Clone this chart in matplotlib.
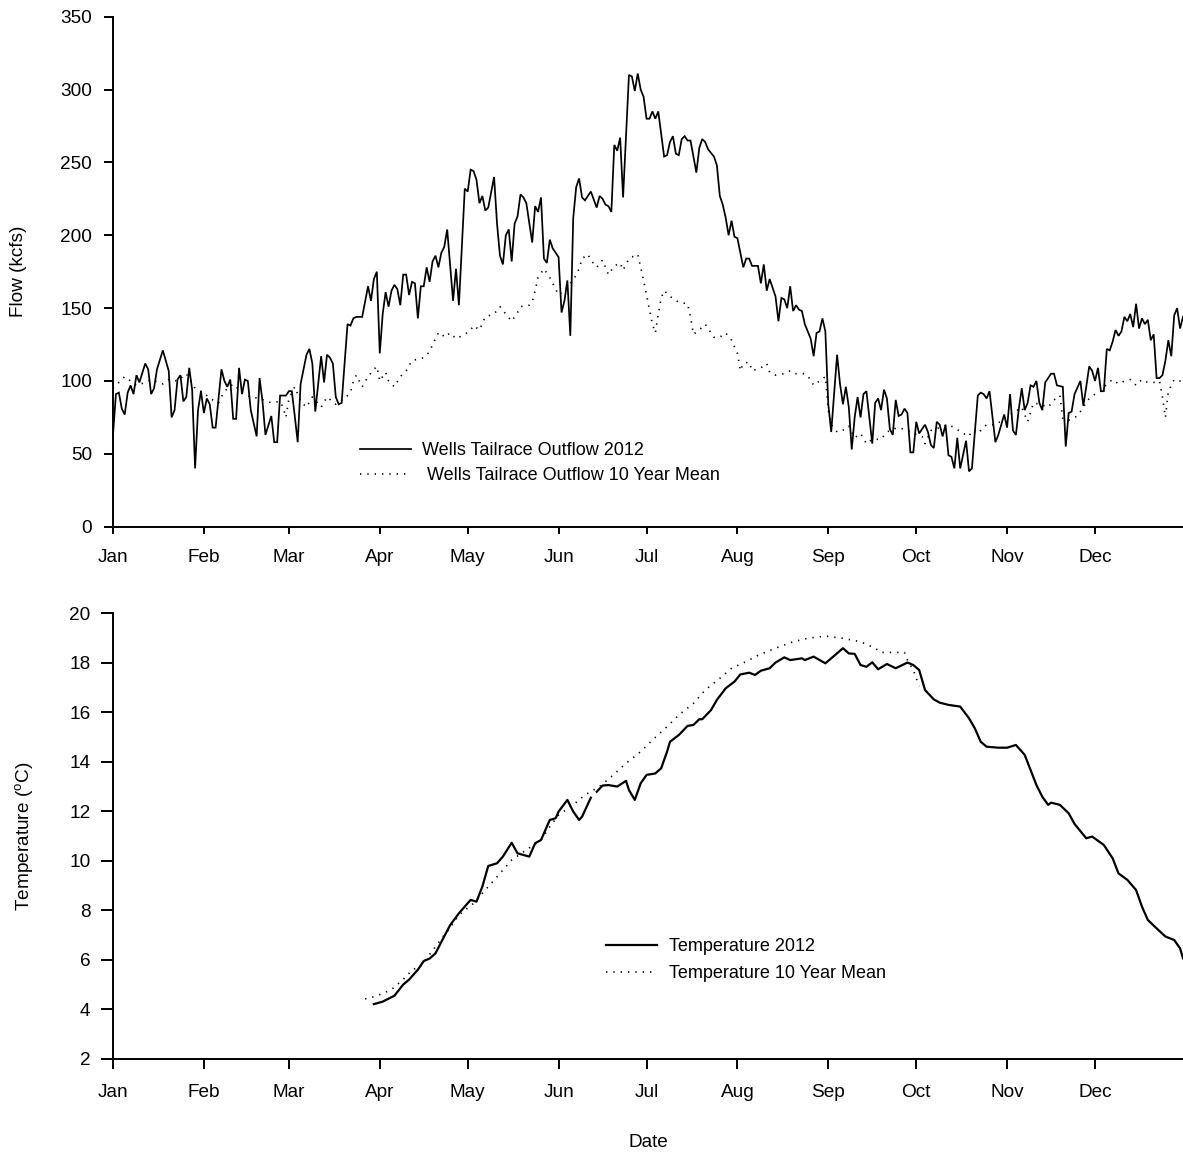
import numpy as np
import matplotlib
matplotlib.use("Agg")
import matplotlib.pyplot as plt

plt.rcParams['font.family'] = ['Liberation Sans', 'DejaVu Sans']
plt.rcParams['mathtext.fontset'] = 'custom'
plt.rcParams['mathtext.rm'] = 'Liberation Sans'
plt.rcParams['mathtext.it'] = 'Liberation Sans'

# ---------------- data (day of year 2012, 0 = Jan 1) ----------------
month_labels = ["Jan", "Feb", "Mar", "Apr", "May", "Jun", "Jul", "Aug", "Sep", "Oct", "Nov", "Dec"]
month_starts = [0, 31, 60, 91, 121, 152, 182, 213, 244, 274, 305, 335]

flow_2012_day = [0, 1, 2, 3, 4, 5, 6, 7, 8, 9, 11, 12, 13, 14, 15, 17, 19, 20, 21, 22, 23, 24, 25, 26, 27, 28, 29, 30,
                 31, 32, 33, 34, 35, 37, 38, 39, 40, 41, 42, 43, 44, 45, 46, 47, 49, 50, 51, 52, 54, 55, 56, 57, 59,
                 60, 61, 62, 63, 64, 66, 67, 68, 69, 71, 72, 73, 74, 75, 76, 77, 78, 80, 81, 82, 83, 85, 87, 88, 89,
                 90, 91, 92, 93, 94, 95, 96, 97, 98, 99, 100, 101, 102, 103, 104, 105, 106, 107, 108, 109, 110, 111,
                 112, 113, 114, 116, 117, 118, 120, 121, 122, 123, 124, 125, 126, 127, 128, 130, 131, 132, 133, 134,
                 135, 136, 137, 138, 139, 140, 141, 143, 144, 145, 146, 147, 148, 149, 150, 152, 153, 154, 155, 156,
                 157, 158, 159, 160, 161, 163, 165, 166, 167, 168, 169, 170, 171, 172, 173, 174, 176, 177, 178, 179,
                 180, 181, 182, 183, 184, 185, 186, 188, 189, 190, 191, 192, 193, 194, 195, 196, 197, 199, 200, 201,
                 202, 203, 205, 206, 207, 208, 209, 210, 211, 212, 213, 214, 215, 216, 217, 218, 220, 221, 222, 223,
                 224, 225, 226, 227, 228, 229, 230, 231, 232, 233, 234, 235, 236, 238, 239, 240, 241, 242, 243, 244,
                 245, 247, 248, 249, 250, 251, 252, 253, 254, 255, 256, 257, 258, 259, 260, 261, 262, 263, 264, 265,
                 266, 267, 268, 269, 270, 271, 272, 273, 274, 275, 277, 278, 279, 280, 281, 282, 283, 284, 285, 286,
                 287, 288, 289, 291, 292, 293, 295, 296, 297, 298, 299, 301, 302, 303, 304, 305, 306, 307, 308, 309,
                 310, 311, 312, 313, 314, 315, 316, 317, 318, 320, 321, 322, 324, 325, 326, 327, 328, 330, 331, 332,
                 333, 334, 335, 336, 337, 338, 339, 340, 341, 342, 343, 344, 345, 346, 347, 348, 349, 350, 351, 352,
                 353, 354, 355, 356, 357, 358, 359, 360, 361, 362, 363, 364, 365]
flow_2012 = [63, 91, 92, 81, 77, 92, 97, 91, 104, 99, 112, 108, 91, 95, 108, 121, 107, 75, 80, 101, 104, 86, 89, 109, 94,
             40, 80, 93, 78, 88, 84, 68, 68, 108, 100, 96, 101, 74, 74, 109, 91, 101, 100, 80, 62, 102, 86, 63, 76, 58,
             58, 90, 90, 93, 93, 76, 58, 98, 118, 122, 112, 79, 117, 99, 118, 116, 112, 89, 84, 85, 139, 138, 143,
             144, 144, 165, 155, 170, 175, 119, 146, 161, 151, 162, 166, 163, 152, 173, 173, 159, 168, 167, 143, 165,
             165, 178, 168, 182, 186, 178, 188, 192, 204, 155, 177, 152, 232, 230, 245, 244, 238, 222, 227, 217, 219,
             240, 208, 186, 180, 200, 204, 182, 208, 213, 228, 226, 222, 195, 220, 216, 226, 184, 181, 197, 191, 185,
             147, 155, 169, 131, 212, 233, 239, 226, 224, 230, 219, 227, 225, 221, 220, 216, 262, 258, 267, 226, 310,
             309, 299, 311, 300, 295, 280, 280, 285, 280, 285, 254, 255, 264, 268, 256, 255, 266, 268, 265, 265, 243,
             260, 266, 264, 259, 254, 248, 227, 221, 212, 200, 210, 199, 198, 188, 178, 184, 184, 179, 179, 167, 180,
             162, 170, 164, 158, 141, 157, 156, 150, 165, 148, 152, 149, 148, 139, 129, 117, 133, 134, 143, 134, 84,
             65, 118, 98, 84, 96, 82, 53, 75, 89, 75, 91, 93, 75, 57, 85, 88, 80, 94, 88, 67, 63, 87, 76, 77, 81, 78,
             51, 51, 72, 64, 70, 65, 56, 54, 72, 70, 62, 70, 49, 48, 40, 61, 40, 59, 38, 40, 90, 92, 91, 88, 93, 58,
             63, 70, 77, 68, 91, 66, 63, 81, 95, 80, 85, 97, 96, 100, 85, 80, 99, 105, 105, 97, 96, 55, 78, 79, 91,
             100, 83, 96, 110, 107, 100, 109, 93, 93, 122, 121, 127, 135, 131, 134, 144, 141, 146, 137, 153, 136, 143,
             139, 142, 128, 132, 102, 102, 104, 114, 128, 117, 145, 150, 136, 144]

flow_mean_day = [0, 2, 4, 6, 8, 11, 13, 17, 19, 22, 25, 28, 31, 33, 36, 38, 41, 44, 47, 50, 54, 57, 58, 59, 60, 62,
                 64, 66, 68, 71, 73, 76, 79, 81, 82, 83, 84, 85, 87, 89, 90, 91, 93, 94, 96, 98, 100, 102, 104, 106,
                 108, 109, 111, 112, 113, 115, 117, 120, 122, 123, 125, 127, 130, 132, 134, 136, 138, 139, 142, 143,
                 144, 145, 147, 149, 151, 152, 154, 156, 157, 159, 160, 162, 163, 165, 167, 169, 171, 173, 174, 176,
                 177, 179, 180, 181, 182, 183, 184, 185, 186, 187, 188, 190, 193, 196, 197, 198, 200, 202, 205, 207,
                 209, 211, 213, 214, 215, 217, 218, 221, 223, 224, 226, 229, 231, 233, 236, 238, 239, 241, 243, 244,
                 245, 247, 250, 251, 253, 255, 257, 259, 262, 264, 266, 268, 271, 273, 276, 277, 279, 282, 285, 287,
                 290, 292, 293, 295, 297, 298, 301, 304, 307, 310, 312, 314, 316, 319, 321, 323, 324, 326, 329, 331,
                 333, 335, 337, 339, 341, 343, 345, 347, 349, 351, 353, 355, 357, 358, 359, 360, 362, 364, 365]
flow_mean = [95, 99, 103, 100, 97, 99, 101, 98, 101, 100, 105, 95, 92, 88, 85, 93, 98, 92, 89, 88, 85, 86, 82, 75, 88,
             96, 86, 82, 89, 82, 89, 84, 88, 92, 100, 104, 100, 96, 103, 108, 110, 100, 106, 100, 96, 103, 107, 114,
             115, 116, 120, 125, 133, 133, 130, 133, 129, 132, 135, 138, 135, 144, 146, 151, 146, 141, 147, 151, 152,
             154, 162, 171, 177, 171, 163, 159, 162, 167, 169, 177, 184, 187, 183, 178, 183, 173, 179, 181, 176, 184,
             185, 187, 178, 169, 159, 149, 139, 133, 146, 157, 162, 158, 154, 153, 144, 132, 135, 139, 130, 130, 133,
             128, 119, 107, 112, 113, 107, 109, 112, 106, 104, 105, 107, 105, 105, 101, 97, 100, 103, 80, 70, 65, 67,
             69, 61, 64, 57, 60, 60, 65, 67, 68, 66, 64, 62, 57, 66, 68, 70, 68, 64, 62, 66, 64, 68, 70, 70, 74, 78,
             82, 72, 85, 84, 82, 87, 90, 74, 73, 76, 82, 88, 91, 93, 98, 101, 98, 100, 101, 97, 101, 99, 99, 100, 89,
             75, 93, 101, 100, 96]

temp_2012_day = [89, 92, 96, 99, 101, 104, 106, 108, 110, 113, 115, 118, 122, 124, 126, 128, 131, 133, 136, 138, 142,
                 144, 146, 149, 151, 152, 155, 157, 159, 160, 163, 164, 165, 167, 169, 172, 175, 176, 178, 180, 182,
                 185, 187, 189, 190, 193, 196, 198, 200, 201, 204, 206, 209, 212, 214, 217, 219, 221, 224, 226, 229,
                 231, 235, 236, 239, 243, 246, 249, 251, 253, 255, 257, 259, 261, 264, 267, 271, 273, 275, 277, 280,
                 282, 285, 289, 292, 294, 296, 298, 300, 302, 305, 308, 311, 313, 315, 317, 319, 320, 323, 326, 328,
                 332, 334, 338, 341, 343, 346, 349, 351, 353, 356, 359, 362, 364, 365]
temp_2012 = [4.21, 4.31, 4.55, 5.0, 5.2, 5.6, 5.95, 6.05, 6.26, 6.95, 7.4, 7.88, 8.42, 8.35, 8.96, 9.79, 9.9, 10.17,
             10.73, 10.3, 10.17, 10.71, 10.84, 11.65, 11.72, 11.99, 12.46, 11.99, 11.65, 11.78, 12.55, np.nan, 12.79,
             13.04, 13.06, 13.0, 13.23, 12.86, 12.46, 13.13, 13.47, 13.53, 13.74, 14.41, 14.81, 15.08, 15.45, 15.49,
             15.72, 15.72, 16.09, 16.5, 16.97, 17.24, 17.53, 17.6, 17.51, 17.68, 17.78, 18.01, 18.22, 18.11, 18.18,
             18.11, 18.25, 17.98, 18.28, 18.59, 18.38, 18.36, 17.91, 17.84, 18.02, 17.74, 17.95, 17.78, 18.01, 17.91,
             17.71, 16.9, 16.52, 16.39, 16.3, 16.23, 15.76, 15.35, 14.81, 14.61, 14.59, 14.57, 14.57, 14.68, 14.28,
             13.67, 13.06, 12.59, 12.26, 12.35, 12.26, 11.92, 11.49, 10.91, 10.98, 10.64, 10.1, 9.49, 9.23, 8.82,
             8.15, 7.61, 7.27, 6.94, 6.8, 6.46, 6.06]

temp_mean_day = [86, 89, 92, 95, 97, 100, 102, 105, 109, 113, 114, 118, 123, 127, 132, 136, 141, 146, 149, 152, 157,
                 161, 166, 170, 175, 180, 184, 189, 193, 198, 202, 207, 211, 216, 220, 226, 232, 237, 243, 249, 255,
                 260, 262, 266, 270, 271, 273, 275]
temp_mean = [4.42, 4.51, 4.64, 4.8, 5.0, 5.32, 5.59, 5.75, 6.37, 7.0, 7.14, 7.81, 8.28, 8.82, 9.49, 10.03, 10.44,
             10.84, 11.38, 11.85, 12.26, 12.66, 13.0, 13.4, 13.94, 14.41, 14.88, 15.42, 15.89, 16.36, 16.9, 17.37,
             17.78, 18.05, 18.3, 18.59, 18.85, 18.99, 19.08, 18.99, 18.85, 18.59, 18.42, 18.42, 18.42, 18.11, 17.71,
             17.06]

# ---------------- figure ----------------
W, H = 1183, 1158
fig = plt.figure(figsize=(W / 100, H / 100), dpi=100)

def px_axes(left, top, right, bottom):
    return fig.add_axes([left / W, 1 - bottom / H, (right - left) / W, (bottom - top) / H])

ax1 = px_axes(113, 16.7, 1183, 526.7)
ax2 = px_axes(113, 613.3, 1183, 1058.8)

dot = (0, (0.8, 3.6))
FS = 13.7
LFS = 13

ax1.plot(flow_2012_day, flow_2012, color='black', lw=1.25, solid_joinstyle='miter',
         label='Wells Tailrace Outflow 2012')
ax1.plot(flow_mean_day, flow_mean, color='black', lw=1.2, linestyle=dot,
         label=' Wells Tailrace Outflow 10 Year Mean')

ax2.plot(temp_2012_day, temp_2012, color='black', lw=1.6, label='Temperature 2012')
ax2.plot(temp_mean_day, temp_mean, color='black', lw=1.2, linestyle=dot,
         label='Temperature 10 Year Mean')

for ax in (ax1, ax2):
    ax.set_xlim(0, 365)
    ax.set_xticks(month_starts)
    ax.set_xticklabels(month_labels)
    for s in ('top', 'right'):
        ax.spines[s].set_visible(False)
    for s in ('left', 'bottom'):
        ax.spines[s].set_linewidth(1.4)
    ax.tick_params(labelsize=FS, width=1.4, direction='out')

ax1.set_ylim(0, 350)
ax1.set_yticks(np.arange(0, 351, 50))
ax1.tick_params(axis='x', length=5.3, pad=10.5)
ax1.tick_params(axis='y', length=6.2, pad=9)
ax1.set_ylabel('Flow (kcfs)', fontsize=FS)
ax1.yaxis.set_label_coords(-0.08, 0.5)

ax2.set_ylim(2, 20)
ax2.set_yticks(np.arange(2, 21, 2))
ax2.tick_params(axis='x', length=7.2, pad=11)
ax2.tick_params(axis='y', length=8.3, pad=8)
ax2.set_ylabel('Temperature ($^{\\rm o}$C)', fontsize=FS)
ax2.yaxis.set_label_coords(-0.073, 0.5)
ax2.set_xlabel('Date', fontsize=FS)
ax2.xaxis.set_label_coords(0.5, -0.168)

leg1 = ax1.legend(loc='upper left', bbox_to_anchor=(360 / W, 1 - 442 / H), bbox_transform=fig.transFigure,
                  frameon=False, fontsize=LFS, handlelength=2.85, handletextpad=0.6, labelspacing=0.45,
                  borderpad=0, borderaxespad=0)
leg2 = ax2.legend(loc='upper left', bbox_to_anchor=(606 / W, 1 - 938 / H), bbox_transform=fig.transFigure,
                  frameon=False, fontsize=LFS, handlelength=2.85, handletextpad=0.65, labelspacing=0.55,
                  borderpad=0, borderaxespad=0)

fig.savefig('out.png', dpi=100)
